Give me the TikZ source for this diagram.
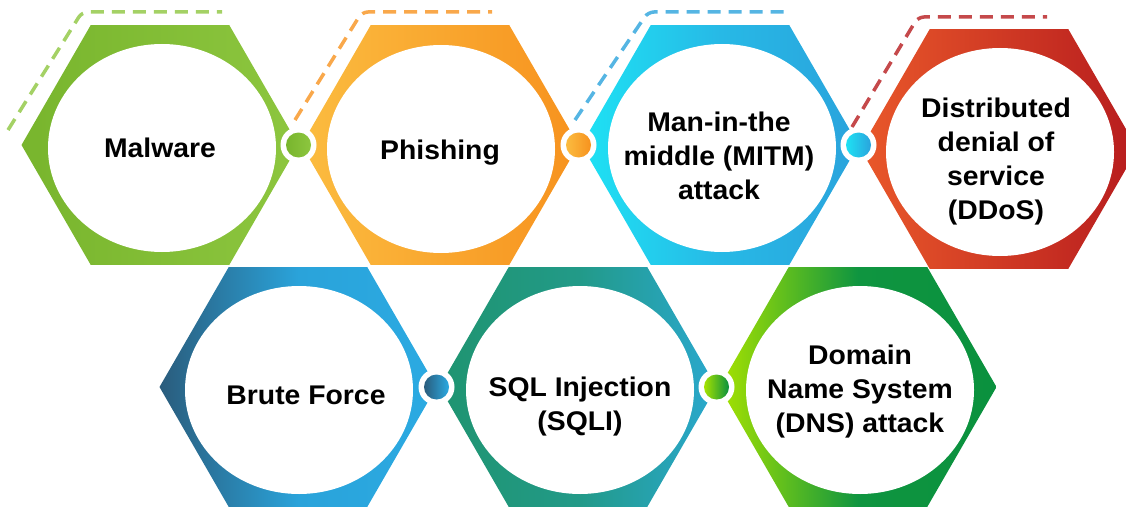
\documentclass[tikz,border=0pt]{standalone}
\usepackage{fontspec}
\setmainfont{Liberation Sans}
\newfontfamily\labelfont[FakeStretch=1.05]{Liberation Sans}
\usetikzlibrary{shapes.geometric}

% horizontal gradient stops for each hexagon
\definecolor{malL}{HTML}{78B52D}
\definecolor{malR}{HTML}{8DC63F}
\definecolor{phiL}{HTML}{FBBC40}
\definecolor{phiR}{HTML}{F7921E}
\definecolor{mitL}{HTML}{1EE2F4}
\definecolor{mitM}{HTML}{27B9E6}
\definecolor{mitR}{HTML}{2AA3DC}
\definecolor{ddoL}{HTML}{E9582A}
\definecolor{ddoR}{HTML}{B71C1E}
\definecolor{bruL}{HTML}{2A5C7C}
\definecolor{bruM}{HTML}{2AA3DA}
\definecolor{bruR}{HTML}{2BAAE2}
\definecolor{sqlL}{HTML}{1F9470}
\definecolor{sqlM}{HTML}{229A88}
\definecolor{sqlR}{HTML}{2AA8CE}
\definecolor{dnsL}{HTML}{A6E200}
\definecolor{dnsM}{HTML}{0F9540}
\definecolor{dnsR}{HTML}{0A913E}

\begin{document}
\begin{tikzpicture}[x=1pt,y=-1pt,
  hexa/.style={regular polygon, regular polygon sides=6, minimum size=277pt,
    inner sep=0pt, outer sep=0pt},
  core/.style={ellipse, fill=white, minimum width=228pt, minimum height=208pt,
    inner sep=0pt},
  label/.style={inner sep=0pt, align=center,
    font=\labelfont\fontsize{27}{34}\selectfont\bfseries},
  ring/.style={circle, fill=white, minimum size=36pt, inner sep=0pt},
  knob/.style={circle, minimum size=25pt, inner sep=0pt},
  trail/.style={line width=3.5pt, dash pattern=on 13pt off 8pt,
    rounded corners=6pt, opacity=0.8}
]
\useasboundingbox (0,0) rectangle (1126,508);
\begin{scope}
\clip (0,0) rectangle (1126,508);

% dashed trails above the top row
\draw[trail, malR] (8,130) -- (82,12) -- (222,12);
\draw[trail, phiR] (295,120) -- (362,12) -- (492,12);
\draw[trail, mitR] (575,120) -- (648,12) -- (787,12);
\draw[trail, ddoR] (852,127) -- (918,17) -- (1047,17);

% hexagons, top row
\node[hexa, left color=malL, right color=malR] (h1) at (160,145) {};
\node[hexa, left color=phiL, right color=phiR] (h2) at (440,145) {};
\node[hexa, left color=mitL, right color=mitR, middle color=mitM] (h3) at (720,145) {};
\node[hexa, left color=ddoL, right color=ddoR] (h4) at (999,149) {};

% hexagons, bottom row
\node[hexa, left color=bruL, right color=bruR, middle color=bruM] (h5) at (298,387) {};
\node[hexa, left color=sqlL, right color=sqlR, middle color=sqlM] (h6) at (578,387) {};
\node[hexa, left color=dnsL, right color=dnsR, middle color=dnsM] (h7) at (858,387) {};

% white centres
\node[core] (c1) at (162,148) {};
\node[core] (c2) at (441,149) {};
\node[core] (c3) at (722,148) {};
\node[core] (c4) at (1000,152) {};
\node[core] (c5) at (299,390) {};
\node[core] (c6) at (580,390) {};
\node[core] (c7) at (860,390) {};

% labels
\node[label] (t1) at (160,151) {\strut Malware};
\node[label] (t2) at (440,153) {\strut Phishing};
\node[label] (t3) at (719,159) {\strut Man-in-the\\\strut middle (MITM)\\\strut attack};
\node[label] (t4) at (996,162) {\strut Distributed\\\strut denial of\\\strut service\\\strut (DDoS)};
\node[label] (t5) at (306,398) {\strut Brute Force};
\node[label] (t6) at (580,407) {\strut SQL Injection\\\strut (SQLI)};
\node[label] (t7) at (860,392) {\strut Domain\\\strut Name System\\\strut (DNS) attack};

% joints between neighbouring hexagons
\node[ring] (j1) at (h1.east) {};
\node[ring] (j2) at (h2.east) {};
\node[ring] (j3) at (h3.east) {};
\node[ring] (j4) at (h5.east) {};
\node[ring] (j5) at (h6.east) {};
\node[knob, left color=malL, right color=malR] (k1) at (j1) {};
\node[knob, left color=phiL, right color=phiR] (k2) at (j2) {};
\node[knob, left color=mitL, right color=mitR] (k3) at (j3) {};
\node[knob, left color=bruL, right color=bruR] (k4) at (j4) {};
\node[knob, left color=dnsL, right color=dnsR] (k5) at (j5) {};
\end{scope}
\end{tikzpicture}
\end{document}
